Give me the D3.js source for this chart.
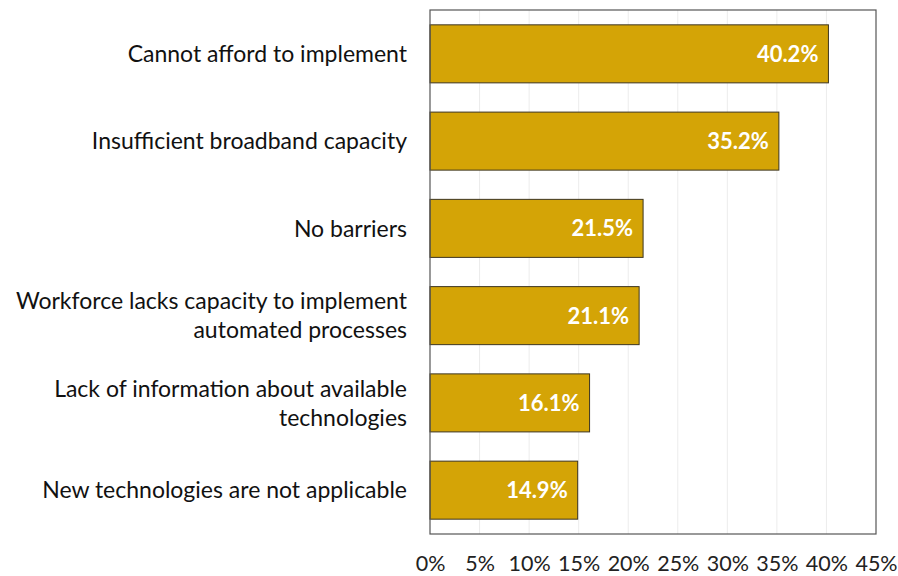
<!DOCTYPE html>
<html><head><meta charset="utf-8">
<script src="https://cdn.jsdelivr.net/npm/d3@7"></script>
<style>body{margin:0;background:#fff;} svg{display:block;}</style>
</head><body>
<svg id="c" width="898" height="576"></svg>
<script>
const categories = [
  ["Cannot afford to implement"],
  ["Insufficient broadband capacity"],
  ["No barriers"],
  ["Workforce lacks capacity to implement", "automated processes"],
  ["Lack of information about available", "technologies"],
  ["New technologies are not applicable"]
];
const values = [40.2, 35.2, 21.5, 21.1, 16.1, 14.9];
const tickValues = [0, 5, 10, 15, 20, 25, 30, 35, 40, 45];

const svg = d3.select("#c");
const m = {left: 430, top: 10, right: 876, bottom: 534};
const font = "Lato, 'Open Sans', sans-serif";

const x = d3.scaleLinear().domain([0, 45]).range([m.left, m.right]);
const y = d3.scaleBand().domain(d3.range(values.length)).range([m.top, m.bottom]).paddingInner(0.335).paddingOuter(0.17);

// gridlines
svg.append("g").selectAll("line").data(tickValues.slice(1, -1)).join("line")
  .attr("x1", d => x(d)).attr("x2", d => x(d))
  .attr("y1", m.top).attr("y2", m.bottom)
  .attr("stroke", "#ececec").attr("stroke-width", 1);

// bars
svg.append("g").selectAll("rect").data(values).join("rect")
  .attr("x", x(0)).attr("y", (d, i) => y(i))
  .attr("width", d => x(d) - x(0)).attr("height", y.bandwidth())
  .attr("fill", "#D4A406").attr("stroke", "#3d3520").attr("stroke-width", 1);

// bar value labels
svg.append("g").selectAll("text").data(values).join("text")
  .attr("x", d => x(d) - 10).attr("y", (d, i) => y(i) + y.bandwidth() / 2)
  .attr("dy", "0.36em").attr("text-anchor", "end")
  .attr("fill", "#fff").attr("font-family", font).attr("font-weight", "bold").attr("font-size", 22)
  .text(d => d.toFixed(1) + "%");

// frame
svg.append("rect").attr("x", m.left).attr("y", m.top)
  .attr("width", m.right - m.left).attr("height", m.bottom - m.top)
  .attr("fill", "none").attr("stroke", "#555").attr("stroke-width", 1.2);

// x axis
const xAxis = d3.axisBottom(x).tickValues(tickValues).tickFormat(d => d + "%").tickSize(0).tickPadding(0);
const gx = svg.append("g").attr("transform", `translate(0,${m.bottom})`).call(xAxis);
gx.select(".domain").remove();
gx.selectAll("text").attr("font-family", font).attr("font-size", 21.5).attr("fill", "#222").attr("dy", null).attr("y", 29).attr("dominant-baseline", "central");

// y axis category labels
const yl = svg.append("g").selectAll("text").data(categories).join("text")
  .attr("text-anchor", "end").attr("font-family", font).attr("font-size", 23).attr("fill", "#111")
  .attr("transform", (d, i) => `translate(407,${y(i) + y.bandwidth() / 2})`);
yl.each(function(lines) {
  const t = d3.select(this);
  const lh = 29;
  lines.forEach((s, k) => {
    t.append("tspan").attr("x", 0).attr("y", (k - (lines.length - 1) / 2) * lh).attr("dy", "0.36em").text(s);
  });
});
</script>
</body></html>
